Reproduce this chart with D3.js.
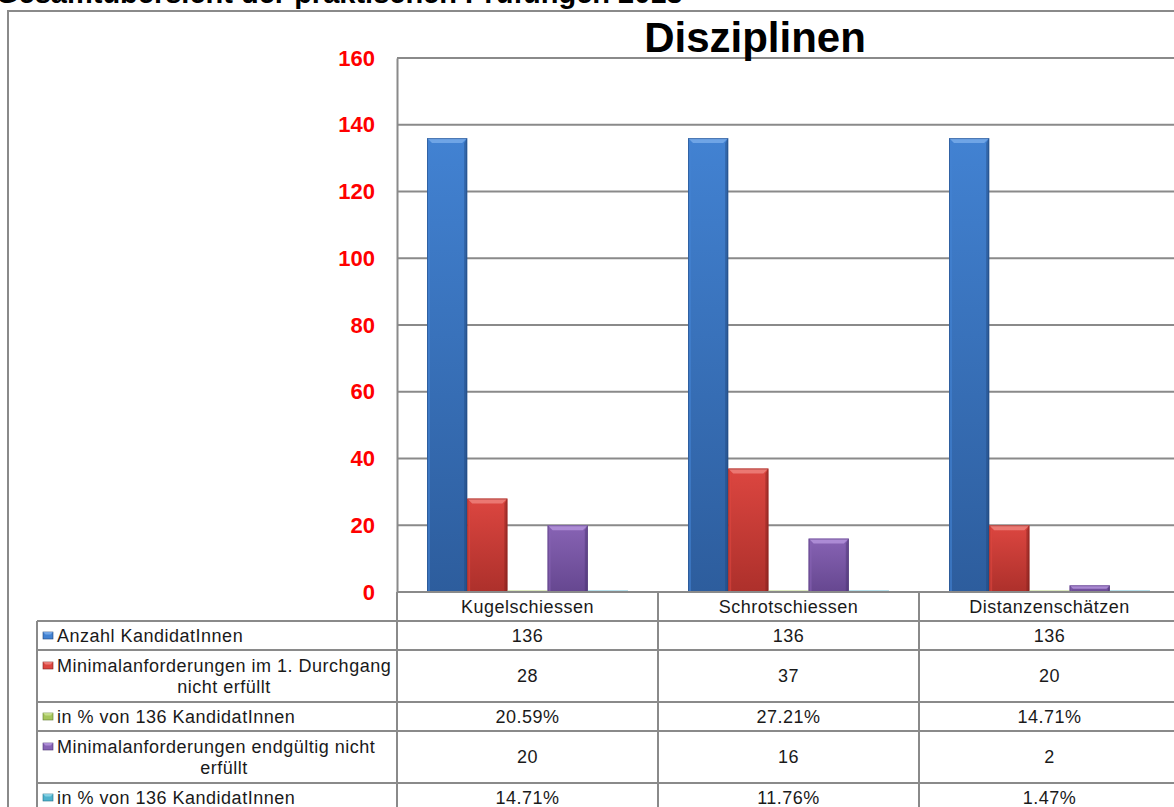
<!DOCTYPE html>
<html><head><meta charset="utf-8">
<script src="https://cdn.jsdelivr.net/npm/d3@7"></script>
<style>
html,body{margin:0;padding:0;background:#fff;overflow:hidden}
svg{display:block}
text{font-family:"Liberation Sans",Arial,sans-serif}
</style></head>
<body>
<svg id="c" width="1174" height="807"></svg>
<script>
const pageTitle = "Gesamtübersicht der praktischen Prüfungen 2013";
const chartTitle = "Disziplinen";
const categories = ["Kugelschiessen", "Schrotschiessen", "Distanzenschätzen"];
const seriesNames = [
  ["Anzahl KandidatInnen"],
  ["Minimalanforderungen im 1. Durchgang", "nicht erfüllt"],
  ["in % von 136 KandidatInnen"],
  ["Minimalanforderungen endgültig nicht", "erfüllt"],
  ["in % von 136 KandidatInnen"]
];
const anzahl = [136, 136, 136];
const nichtErfuellt1 = [28, 37, 20];
const prozent1 = [0.2059, 0.2721, 0.1471];
const nichtErfuelltEnd = [20, 16, 2];
const prozent2 = [0.1471, 0.1176, 0.0147];
const tableLabels = [
  ["136", "136", "136"],
  ["28", "37", "20"],
  ["20.59%", "27.21%", "14.71%"],
  ["20", "16", "2"],
  ["14.71%", "11.76%", "1.47%"]
];
const yTicks = [0, 20, 40, 60, 80, 100, 120, 140, 160];
const seriesValues = [anzahl, nichtErfuellt1, prozent1, nichtErfuelltEnd, prozent2];
const colors = [
  {top:"#4282d2", bot:"#2d5d9d", light:"#7fb0ec", dark:"#1f4478"},
  {top:"#dc4640", bot:"#ad302b", light:"#f08a84", dark:"#7e1f1b"},
  {top:"#a5c55c", bot:"#86a443", light:"#cde39a", dark:"#5f7a2c"},
  {top:"#8763b4", bot:"#664790", light:"#b99ae0", dark:"#4a3270"},
  {top:"#4eb2cd", bot:"#3491ad", light:"#95d8ea", dark:"#226e86"}
];

const svg = d3.select("#c");
const gridColor = "#8a8a8a";

const defs = svg.append("defs");
colors.forEach((c, i) => {
  const g = defs.append("linearGradient").attr("id", "g" + i)
    .attr("x1", 0).attr("y1", 0).attr("x2", 0).attr("y2", 1);
  g.append("stop").attr("offset", "0%").attr("stop-color", c.top);
  g.append("stop").attr("offset", "100%").attr("stop-color", c.bot);
});

// page title (partly clipped at top, as in the reference)
svg.append("text").attr("x", -4).attr("y", 3)
  .attr("font-size", 29).attr("font-weight", "bold").attr("fill", "#000")
  .text(pageTitle);

// outer frame
svg.append("line").attr("x1", 8).attr("x2", 1200).attr("y1", 11).attr("y2", 11)
  .attr("stroke", gridColor).attr("stroke-width", 2);
svg.append("line").attr("x1", 8).attr("x2", 8).attr("y1", 10).attr("y2", 820)
  .attr("stroke", gridColor).attr("stroke-width", 2);

// scales
const plotLeft = 397, plotRight = 1180, plotTop = 58, plotBottom = 592;
const x = d3.scaleBand().domain(categories).range([plotLeft, plotRight]).paddingInner(0).paddingOuter(0);
const bandPad = 30 / 261;
const xs = d3.scaleBand().domain(d3.range(seriesValues.length))
  .range([x.bandwidth() * bandPad, x.bandwidth() * (1 - bandPad)]).padding(0);
const y = d3.scaleLinear().domain([0, 160]).range([plotBottom, plotTop]);

// gridlines
svg.append("g").selectAll("line").data(yTicks.filter(t => t > 0)).join("line")
  .attr("x1", plotLeft).attr("x2", plotRight)
  .attr("y1", d => y(d)).attr("y2", d => y(d))
  .attr("stroke", gridColor).attr("stroke-width", 2);

// y axis
const yAxis = svg.append("g").attr("transform", `translate(${plotLeft},0)`)
  .call(d3.axisLeft(y).tickValues(yTicks).tickSize(0).tickPadding(22));
yAxis.select(".domain").attr("stroke", gridColor).attr("stroke-width", 2);
yAxis.selectAll("text").attr("fill", "#ff0000").attr("font-size", 22)
  .attr("font-weight", "bold").attr("font-family", '"Liberation Sans",Arial,sans-serif');

// chart title
svg.append("text").attr("x", 755).attr("y", 52).attr("text-anchor", "middle")
  .attr("font-size", 42).attr("font-weight", "bold").attr("fill", "#000")
  .text(chartTitle);

// bars
const barData = [];
categories.forEach((cat, ci) => {
  seriesValues.forEach((vals, si) => {
    barData.push({cat, si, v: vals[ci]});
  });
});
const bars = svg.append("g");
barData.forEach(d => {
  const bx = x(d.cat) + xs(d.si), bw = xs.bandwidth();
  const by = y(d.v), bh = y(0) - y(d.v);
  const c = colors[d.si];
  const g = bars.append("g");
  if (bh < 3) {
    g.append("rect").attr("x", bx).attr("y", y(0) - 1.5).attr("width", bw).attr("height", 1.5)
      .attr("fill", c.top).attr("opacity", 0.8);
    return;
  }
  g.append("rect").attr("x", bx).attr("y", by).attr("width", bw).attr("height", bh)
    .attr("fill", `url(#g${d.si})`);
  const b = Math.min(5, bh / 2);
  g.append("polygon").attr("points", [[bx, by], [bx + bw, by], [bx + bw - b, by + b], [bx + b, by + b]].join(" "))
    .attr("fill", c.light).attr("opacity", 0.75);
  g.append("polygon").attr("points", [[bx, by], [bx + b * 0.6, by + b], [bx + b * 0.6, by + bh], [bx, by + bh]].join(" "))
    .attr("fill", c.top).attr("opacity", 0.6);
  g.append("polygon").attr("points", [[bx + bw, by], [bx + bw - b * 0.6, by + b], [bx + bw - b * 0.6, by + bh], [bx + bw, by + bh]].join(" "))
    .attr("fill", c.dark).attr("opacity", 0.45);
  g.append("rect").attr("x", bx + 0.5).attr("y", by + 0.5).attr("width", bw - 1).attr("height", bh - 0.5)
    .attr("fill", "none").attr("stroke", c.dark).attr("stroke-opacity", 0.5).attr("stroke-width", 1);
});

// baseline
svg.append("line").attr("x1", plotLeft).attr("x2", plotRight).attr("y1", y(0)).attr("y2", y(0))
  .attr("stroke", gridColor).attr("stroke-width", 2);

// data table
const tableLeft = 37;
const headerTop = plotBottom, headerH = 29;
const lineH1 = 29, lineH2 = 52;
const rowTops = [];
let cy = headerTop + headerH;
seriesNames.forEach(n => { rowTops.push(cy); cy += (n.length > 1 ? lineH2 : lineH1); });
rowTops.push(cy);
const tbl = svg.append("g");
const fs = 18;
const textStyle = sel => sel.attr("font-size", fs).attr("fill", "#1a1a1a").attr("letter-spacing", "0.5px");

rowTops.forEach(t => {
  tbl.append("line").attr("x1", tableLeft).attr("x2", plotRight).attr("y1", t).attr("y2", t)
    .attr("stroke", gridColor).attr("stroke-width", 2);
});
[plotLeft, x(categories[1]), x(categories[2]), plotRight].forEach(vx => {
  tbl.append("line").attr("x1", vx).attr("x2", vx).attr("y1", headerTop).attr("y2", 830)
    .attr("stroke", gridColor).attr("stroke-width", 2);
});
tbl.append("line").attr("x1", tableLeft).attr("x2", tableLeft).attr("y1", rowTops[0]).attr("y2", 830)
  .attr("stroke", gridColor).attr("stroke-width", 2);

categories.forEach(cat => {
  tbl.append("text").attr("x", x(cat) + x.bandwidth() / 2).attr("y", headerTop + headerH / 2 + 6.3)
    .attr("text-anchor", "middle").call(textStyle).text(cat);
});

seriesNames.forEach((lines, ri) => {
  const top = rowTops[ri], h = rowTops[ri + 1] - top, center = top + h / 2;
  const c = colors[ri];
  const firstCenter = lines.length > 1 ? center - 10.5 : center;
  const mx = 43, mw = 10, mh = 7, my = firstCenter - mh / 2;
  tbl.append("rect").attr("x", mx).attr("y", my).attr("width", mw).attr("height", mh)
    .attr("fill", c.top).attr("stroke", c.dark).attr("stroke-width", 0.6);
  tbl.append("polygon").attr("points", [[mx, my], [mx + mw, my], [mx + mw - 2.5, my + 2.5], [mx + 2.5, my + 2.5]].join(" "))
    .attr("fill", c.light).attr("opacity", 0.8);
  lines.forEach((ln, li) => {
    const t = tbl.append("text").call(textStyle).text(ln);
    const by = firstCenter + li * 21 + 6.3;
    if (li === 0) t.attr("x", 57).attr("y", by);
    else t.attr("x", 224).attr("y", by).attr("text-anchor", "middle");
  });
  categories.forEach((cat, ci) => {
    tbl.append("text").attr("x", x(cat) + x.bandwidth() / 2).attr("y", center + 6.3)
      .attr("text-anchor", "middle").call(textStyle).text(tableLabels[ri][ci]);
  });
});
</script>
</body></html>
